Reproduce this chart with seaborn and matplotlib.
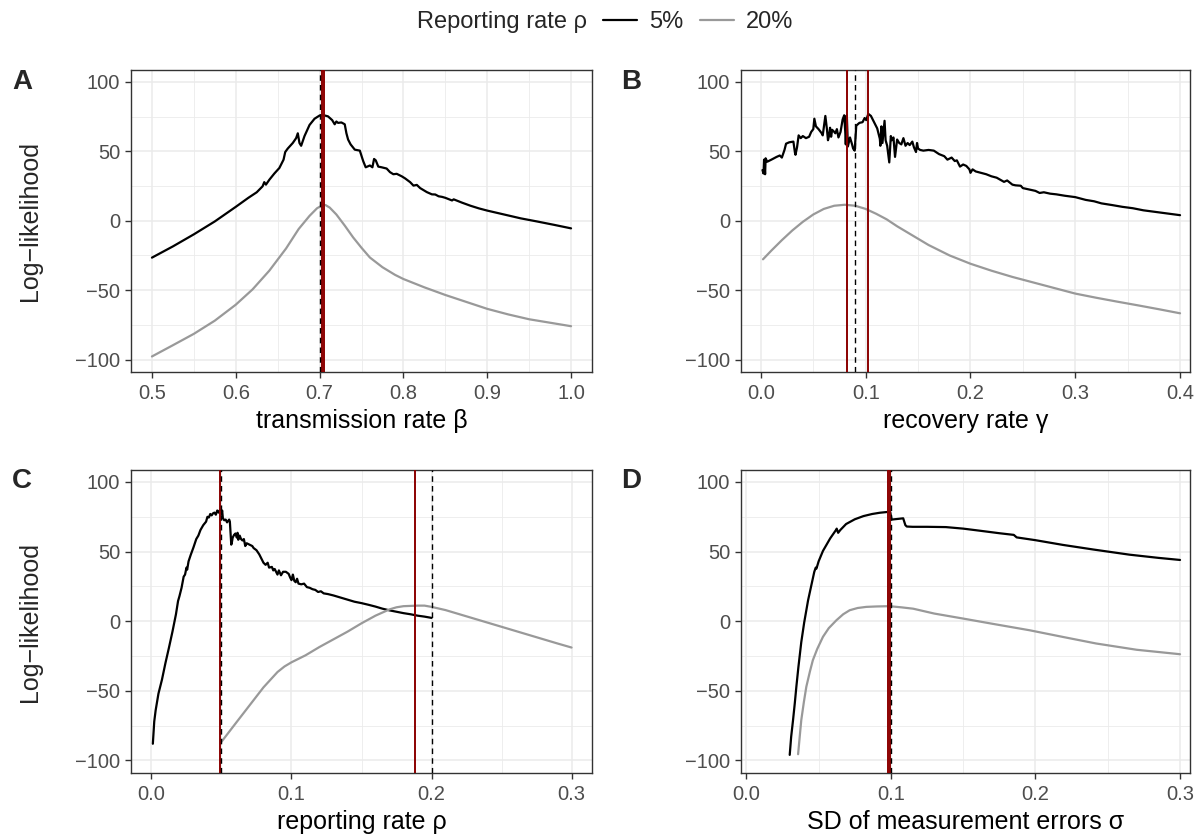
import numpy as np
import pandas as pd
import matplotlib
matplotlib.use("Agg")
import matplotlib.pyplot as plt
import seaborn as sns
from matplotlib.lines import Line2D

# ---------------- data ----------------
series_labels = ["5%", "20%"]

# Panel A: transmission rate beta
a_x_5 = [0.500, 0.525, 0.550, 0.575, 0.600, 0.615, 0.625, 0.632, 0.634, 0.636, 0.640, 0.646,
         0.652, 0.657, 0.659, 0.662, 0.668, 0.672, 0.674, 0.676, 0.678, 0.682, 0.688, 0.694,
         0.700, 0.705, 0.710, 0.715, 0.718, 0.720, 0.722, 0.726, 0.730, 0.732, 0.734, 0.737,
         0.742, 0.748, 0.752, 0.755, 0.760, 0.763, 0.765, 0.767, 0.770, 0.774, 0.780, 0.784,
         0.788, 0.792, 0.798, 0.802, 0.808, 0.812, 0.816, 0.820, 0.828, 0.834, 0.838, 0.842,
         0.846, 0.850, 0.858, 0.860, 0.870, 0.880, 0.890, 0.900, 0.920, 0.940, 0.960, 0.980, 1.000]
a_y_5 = [-26.6, -18.5, -9.8, -0.5, 10.0, 16.5, 20.5, 24.8, 27.8, 26.0, 29.5, 34.0,
         38.0, 44.0, 49.5, 52.0, 56.0, 59.5, 63.0, 56.0, 54.0, 61.0, 69.0, 73.5,
         75.8, 76.0, 75.2, 72.5, 69.5, 71.5, 70.5, 70.8, 69.5, 63.0, 58.5, 55.0,
         51.2, 50.5, 43.0, 38.5, 39.8, 38.5, 44.5, 43.5, 39.0, 38.5, 37.6, 35.0,
         33.5, 33.8, 32.0, 30.5, 27.8, 25.3, 25.8, 23.5, 20.6, 19.0, 18.9, 17.6,
         17.2, 16.5, 14.6, 15.4, 13.0, 10.8, 8.9, 7.3, 4.5, 1.7, -0.6, -3.0, -5.5]
a_x_20 = [0.500, 0.525, 0.550, 0.575, 0.600, 0.620, 0.640, 0.660, 0.675, 0.688, 0.697, 0.703,
          0.707, 0.712, 0.720, 0.730, 0.740, 0.750, 0.760, 0.775, 0.790, 0.800, 0.825, 0.850,
          0.875, 0.900, 0.925, 0.950, 0.975, 1.000]
a_y_20 = [-97.8, -89.7, -81.5, -72.0, -60.5, -49.5, -36.0, -20.0, -6.0, 3.5, 9.0, 11.0,
          11.3, 9.5, 4.5, -3.5, -12.0, -19.5, -26.5, -33.5, -39.0, -42.0, -48.0, -53.5,
          -58.5, -63.5, -67.5, -71.0, -73.5, -76.0]

# Panel B: recovery rate gamma
b_x_5 = [0.0015, 0.0025, 0.003, 0.0035, 0.004, 0.0045, 0.006, 0.010, 0.015, 0.018, 0.020, 0.0225,
         0.024, 0.027, 0.031, 0.0325, 0.033, 0.0345, 0.036, 0.038, 0.040, 0.043, 0.046, 0.048,
         0.050, 0.051, 0.0525, 0.055, 0.058, 0.059, 0.0615, 0.063, 0.064, 0.065, 0.066, 0.067,
         0.068, 0.070, 0.071, 0.0725, 0.074, 0.076, 0.078, 0.0795, 0.0805, 0.081, 0.082, 0.083,
         0.085, 0.087, 0.088, 0.0895, 0.091, 0.094, 0.097, 0.099, 0.1005, 0.1025, 0.105, 0.108,
         0.111, 0.1135, 0.114, 0.115, 0.116, 0.118, 0.119, 0.1205, 0.1225, 0.124, 0.125, 0.1265,
         0.128, 0.130, 0.132, 0.134, 0.136, 0.138, 0.140, 0.142, 0.1445, 0.146, 0.148, 0.149,
         0.150, 0.152, 0.155, 0.160, 0.165, 0.170, 0.175, 0.178, 0.182, 0.185, 0.187, 0.190,
         0.193, 0.196, 0.199, 0.200, 0.202, 0.205, 0.210, 0.215, 0.220, 0.225, 0.232, 0.235,
         0.240, 0.243, 0.248, 0.250, 0.256, 0.262, 0.266, 0.270, 0.276, 0.282, 0.290, 0.300,
         0.305, 0.310, 0.318, 0.325, 0.335, 0.345, 0.355, 0.365, 0.375, 0.385, 0.400]
b_y_5 = [36.5, 34.0, 44.0, 40.0, 33.5, 45.0, 42.5, 44.0, 46.0, 47.0, 45.5, 51.0,
         55.5, 56.5, 57.0, 49.0, 47.5, 53.0, 61.5, 59.5, 61.0, 59.5, 60.5, 64.0,
         66.0, 73.5, 68.0, 66.0, 63.0, 61.5, 75.5, 66.0, 58.0, 61.0, 67.0, 60.5,
         65.5, 64.0, 63.0, 66.0, 60.0, 64.0, 73.0, 76.0, 64.0, 55.0, 76.0, 53.5,
         60.0, 55.0, 52.0, 50.5, 68.5, 70.5, 71.0, 74.0, 72.5, 77.0, 75.5, 71.0,
         66.5, 59.0, 54.0, 68.0, 56.0, 72.0, 58.0, 54.0, 42.0, 61.0, 58.0, 60.0,
         46.0, 58.5, 56.0, 55.0, 59.5, 54.0, 56.0, 54.5, 57.0, 53.0, 49.5, 56.0,
         52.0, 51.0, 50.5, 51.0, 50.5, 48.0, 46.5, 44.0, 45.5, 43.0, 43.5, 39.0,
         40.5, 39.5, 37.0, 34.5, 37.0, 35.5, 34.5, 33.5, 32.0, 31.0, 28.0, 29.0,
         26.0, 25.5, 25.2, 23.5, 22.5, 21.5, 20.0, 20.5, 19.5, 19.0, 18.0, 17.0,
         16.0, 15.0, 14.0, 12.5, 11.3, 10.0, 9.0, 7.5, 6.5, 5.5, 4.0]
b_x_20 = [0.002, 0.01, 0.02, 0.03, 0.04, 0.05, 0.06, 0.07, 0.08, 0.09, 0.10, 0.11, 0.12,
          0.13, 0.14, 0.15, 0.16, 0.18, 0.20, 0.22, 0.24, 0.26, 0.28, 0.30, 0.32, 0.34,
          0.36, 0.38, 0.40]
b_y_20 = [-27.8, -21.5, -14.0, -7.0, -0.8, 4.5, 8.5, 10.8, 11.5, 10.8, 8.5, 5.0, 1.0,
          -4.0, -8.5, -13.0, -17.5, -25.0, -31.0, -36.0, -40.5, -44.5, -48.5, -52.5, -55.5,
          -58.3, -61.0, -63.8, -66.7]

# Panel C: reporting rate rho
c_x_5 = [0.001, 0.002, 0.003, 0.005, 0.0075, 0.010, 0.0125, 0.015, 0.0175, 0.019, 0.020, 0.0215,
         0.023, 0.024, 0.025, 0.0255, 0.0265, 0.028, 0.030, 0.032, 0.0335, 0.035, 0.037, 0.039,
         0.040, 0.041, 0.042, 0.043, 0.044, 0.045, 0.046, 0.047, 0.048, 0.049, 0.050, 0.0505,
         0.051, 0.052, 0.053, 0.054, 0.0555, 0.056, 0.057, 0.0575, 0.058, 0.059, 0.060, 0.061,
         0.0615, 0.062, 0.063, 0.064, 0.065, 0.066, 0.067, 0.068, 0.070, 0.072, 0.073, 0.075,
         0.077, 0.079, 0.080, 0.0815, 0.083, 0.084, 0.086, 0.087, 0.088, 0.090, 0.091, 0.0925,
         0.094, 0.096, 0.098, 0.099, 0.100, 0.101, 0.102, 0.103, 0.104, 0.105, 0.107, 0.109,
         0.111, 0.113, 0.115, 0.117, 0.119, 0.121, 0.123, 0.126, 0.130, 0.135, 0.140, 0.145,
         0.150, 0.155, 0.160, 0.165, 0.170, 0.175, 0.180, 0.185, 0.190, 0.195, 0.200]
c_y_5 = [-88.0, -72.0, -64.0, -52.0, -42.0, -30.0, -19.0, -7.5, 5.0, 14.5, 18.0, 24.0,
         32.0, 33.5, 38.5, 37.0, 43.0, 47.5, 53.0, 59.0, 61.5, 65.5, 69.0, 71.5,
         75.0, 74.5, 77.0, 76.0, 77.5, 78.0, 76.5, 79.5, 78.0, 80.0, 77.0, 79.5,
         74.0, 72.5, 73.0, 71.0, 73.0, 71.5, 55.0, 57.0, 60.0, 62.0, 63.0, 60.0,
         63.5, 58.5, 61.5, 59.0, 58.0, 59.0, 54.0, 56.0, 55.0, 54.0, 52.5, 51.0,
         48.0, 44.0, 42.0, 40.5, 42.0, 38.5, 39.0, 36.5, 37.5, 33.5, 36.5, 33.0,
         35.5, 35.5, 34.0, 31.5, 29.5, 33.5, 29.0, 28.0, 30.5, 27.0, 26.5, 27.0,
         24.5, 24.0, 23.0, 22.5, 21.0, 21.5, 20.0, 19.5, 18.5, 17.0, 15.5, 14.0,
         13.0, 11.8, 10.5, 9.0, 7.8, 6.8, 5.8, 5.0, 4.0, 3.3, 2.4]
c_x_20 = [0.050, 0.060, 0.070, 0.080, 0.090, 0.095, 0.100, 0.110, 0.120, 0.130, 0.140, 0.150,
          0.160, 0.170, 0.175, 0.180, 0.185, 0.190, 0.195, 0.200, 0.210, 0.220, 0.230, 0.240,
          0.250, 0.260, 0.270, 0.280, 0.290, 0.300]
c_y_20 = [-86.6, -73.5, -60.5, -47.5, -36.5, -32.5, -29.5, -24.5, -18.5, -13.0, -7.5, -1.5,
          4.0, 8.5, 10.0, 10.8, 11.0, 11.2, 11.2, 10.3, 8.0, 5.0, 2.0, -1.0,
          -4.0, -7.0, -10.0, -13.0, -16.0, -18.9]

# Panel D: SD of measurement errors sigma
d_x_5 = [0.0300, 0.0310, 0.0323, 0.0335, 0.0346, 0.036, 0.038, 0.040, 0.0427, 0.045, 0.047, 0.048,
         0.0485, 0.050, 0.053, 0.0555, 0.058, 0.060, 0.062, 0.0625, 0.0635, 0.065, 0.069, 0.075,
         0.081, 0.087, 0.0923, 0.098, 0.0995, 0.1005, 0.105, 0.1085, 0.110, 0.111, 0.115, 0.125,
         0.138, 0.150, 0.1615, 0.175, 0.185, 0.187, 0.200, 0.219, 0.240, 0.265, 0.285, 0.300]
d_y_5 = [-96.0, -83.0, -71.0, -59.0, -47.0, -33.0, -15.0, -1.0, 15.0, 26.0, 35.5, 38.5,
         37.8, 43.0, 50.5, 55.0, 59.5, 62.5, 65.5, 66.5, 63.5, 65.5, 69.8, 73.2,
         75.5, 77.0, 77.9, 78.5, 78.5, 73.0, 73.5, 73.9, 69.0, 68.0, 67.8, 67.8,
         67.6, 66.5, 65.0, 63.2, 62.0, 60.2, 58.2, 54.8, 51.5, 47.8, 45.5, 44.0]
d_x_20 = [0.0358, 0.037, 0.038, 0.0398, 0.0415, 0.044, 0.046, 0.049, 0.053, 0.057, 0.0623, 0.067,
          0.0715, 0.077, 0.083, 0.090, 0.099, 0.107, 0.1154, 0.130, 0.150, 0.170, 0.196, 0.220,
          0.242, 0.270, 0.300]
d_y_20 = [-95.5, -82.0, -71.0, -58.0, -47.0, -36.0, -28.0, -20.0, -11.2, -5.0, 0.7, 5.0,
          7.9, 9.5, 10.3, 10.6, 10.8, 10.0, 9.0, 5.5, 1.9, -1.8, -6.5, -11.5,
          -16.0, -20.5, -23.7]

# reference lines: estimates (red, solid) and true values (black, dashed)
a_est = [0.703, 0.705]
a_true = [0.700]
b_est = [0.082, 0.102]
b_true = [0.090]
c_est = [0.049, 0.188]
c_true = [0.050, 0.200]
d_est = [0.0978, 0.0992]
d_true = [0.100]

a_xticks = [0.5, 0.6, 0.7, 0.8, 0.9, 1.0]
b_xticks = [0.0, 0.1, 0.2, 0.3, 0.4]
c_xticks = [0.0, 0.1, 0.2, 0.3]
d_xticks = [0.0, 0.1, 0.2, 0.3]
y_ticks = [-100, -50, 0, 50, 100]

# ---------------- style ----------------
sns.set_theme(style="white")
plt.rcParams['font.family'] = ['Liberation Sans', 'DejaVu Sans']
plt.rcParams['axes.unicode_minus'] = True

TICK_FS = 14.5
TITLE_FS = 18
LEG_FS = 17
TAG_FS = 20

W, H = 1200, 839
fig = plt.figure(figsize=(12, 8.39), dpi=100)


def box(l, t, r, b):
    return [l / W, 1 - b / H, (r - l) / W, (b - t) / H]


panels = [
    dict(pos=box(131, 70, 592, 372), xs=(a_x_5, a_x_20), ys=(a_y_5, a_y_20), xlim=(0.475, 1.025),
         xt=a_xticks, fmt="{:.1f}", est=a_est, true=a_true, xlabel="transmission rate β",
         tag="A", tagpos=(22, 82), ylab=True),
    dict(pos=box(741, 70, 1190, 372), xs=(b_x_5, b_x_20), ys=(b_y_5, b_y_20), xlim=(-0.019, 0.4095),
         xt=b_xticks, fmt="{:.1f}", est=b_est, true=b_true, xlabel="recovery rate γ",
         tag="B", tagpos=(631, 82), ylab=False),
    dict(pos=box(131, 470, 592, 773), xs=(c_x_5, c_x_20), ys=(c_y_5, c_y_20), xlim=(-0.0146, 0.3146),
         xt=c_xticks, fmt="{:.1f}", est=c_est, true=c_true, xlabel="reporting rate ρ",
         tag="C", tagpos=(22, 481), ylab=True),
    dict(pos=box(741, 470, 1190, 773), xs=(d_x_5, d_x_20), ys=(d_y_5, d_y_20), xlim=(-0.0037, 0.3069),
         xt=d_xticks, fmt="{:.1f}", est=d_est, true=d_true, xlabel="SD of measurement errors σ",
         tag="D", tagpos=(631, 481), ylab=False),
]

palette = {"5%": "black", "20%": "#999999"}
grid_col = "#EBEBEB"

for p in panels:
    ax = fig.add_axes(p["pos"])
    frames = []
    for lab, xv, yv in zip(series_labels, p["xs"], p["ys"]):
        frames.append(pd.DataFrame({"x": xv, "ll": yv, "rate": lab}))
    df = pd.concat(frames, ignore_index=True)
    sns.lineplot(data=df, x="x", y="ll", hue="rate", hue_order=series_labels, palette=palette,
                 estimator=None, sort=False, legend=False, linewidth=1.6, ax=ax, zorder=3)
    for v in p["est"]:
        ax.axvline(v, color="#8B0000", lw=1.4, zorder=4)
    for v in p["true"]:
        ax.axvline(v, color="black", lw=1.0, ls=(0, (4, 3)), zorder=5)

    ax.set_xlim(*p["xlim"])
    ax.set_ylim(-109, 108.6)
    xt = p["xt"]
    ax.set_xticks(xt)
    ax.set_xticklabels([p["fmt"].format(v) for v in xt])
    step = xt[1] - xt[0]
    ax.set_xticks([v + step / 2 for v in xt[:-1]] + [xt[0] - step / 2, xt[-1] + step / 2], minor=True)
    ax.set_yticks(y_ticks)
    ax.set_yticks([-75, -25, 25, 75], minor=True)
    ax.grid(which="major", color=grid_col, lw=1.1, zorder=0)
    ax.grid(which="minor", color=grid_col, lw=0.6, zorder=0)
    ax.set_axisbelow(True)
    ax.tick_params(which="major", length=4.3, width=1.0, color="#333333", labelcolor="#4D4D4D",
                   labelsize=TICK_FS, left=True, bottom=True)
    ax.tick_params(axis="x", which="major", pad=4.5)
    ax.tick_params(axis="y", which="major", pad=3.5)
    ax.tick_params(which="minor", length=0)
    for s in ax.spines.values():
        s.set_color("#333333")
        s.set_linewidth(1.0)
    ax.set_xlabel(p["xlabel"], fontsize=TITLE_FS, color="black", labelpad=4)
    ax.set_ylabel("")
    ax.set_xlim(*p["xlim"])

    fig.text(p["tagpos"][0] / W, 1 - p["tagpos"][1] / H, p["tag"], fontsize=TAG_FS, fontweight="bold",
             ha="center", va="center")
    if p["ylab"]:
        pos = p["pos"]
        fig.text(30 / W, pos[1] + pos[3] / 2, "Log−likelihood", rotation=90, fontsize=TITLE_FS,
                 ha="center", va="center")

# legend at top
ly = 1 - 22 / H
fig.text(417 / W, ly, "Reporting rate ρ", fontsize=LEG_FS, ha="left", va="center")
handles = [Line2D([], [], color="black", lw=1.6), Line2D([], [], color="#999999", lw=1.6)]
fig.legend(handles, series_labels, ncol=2, loc="center left", bbox_to_anchor=(603 / W, ly),
           frameon=False, fontsize=LEG_FS, handlelength=1.45, handletextpad=0.5, columnspacing=0.7,
           borderpad=0, borderaxespad=0)

fig.savefig("out.png", dpi=100)
